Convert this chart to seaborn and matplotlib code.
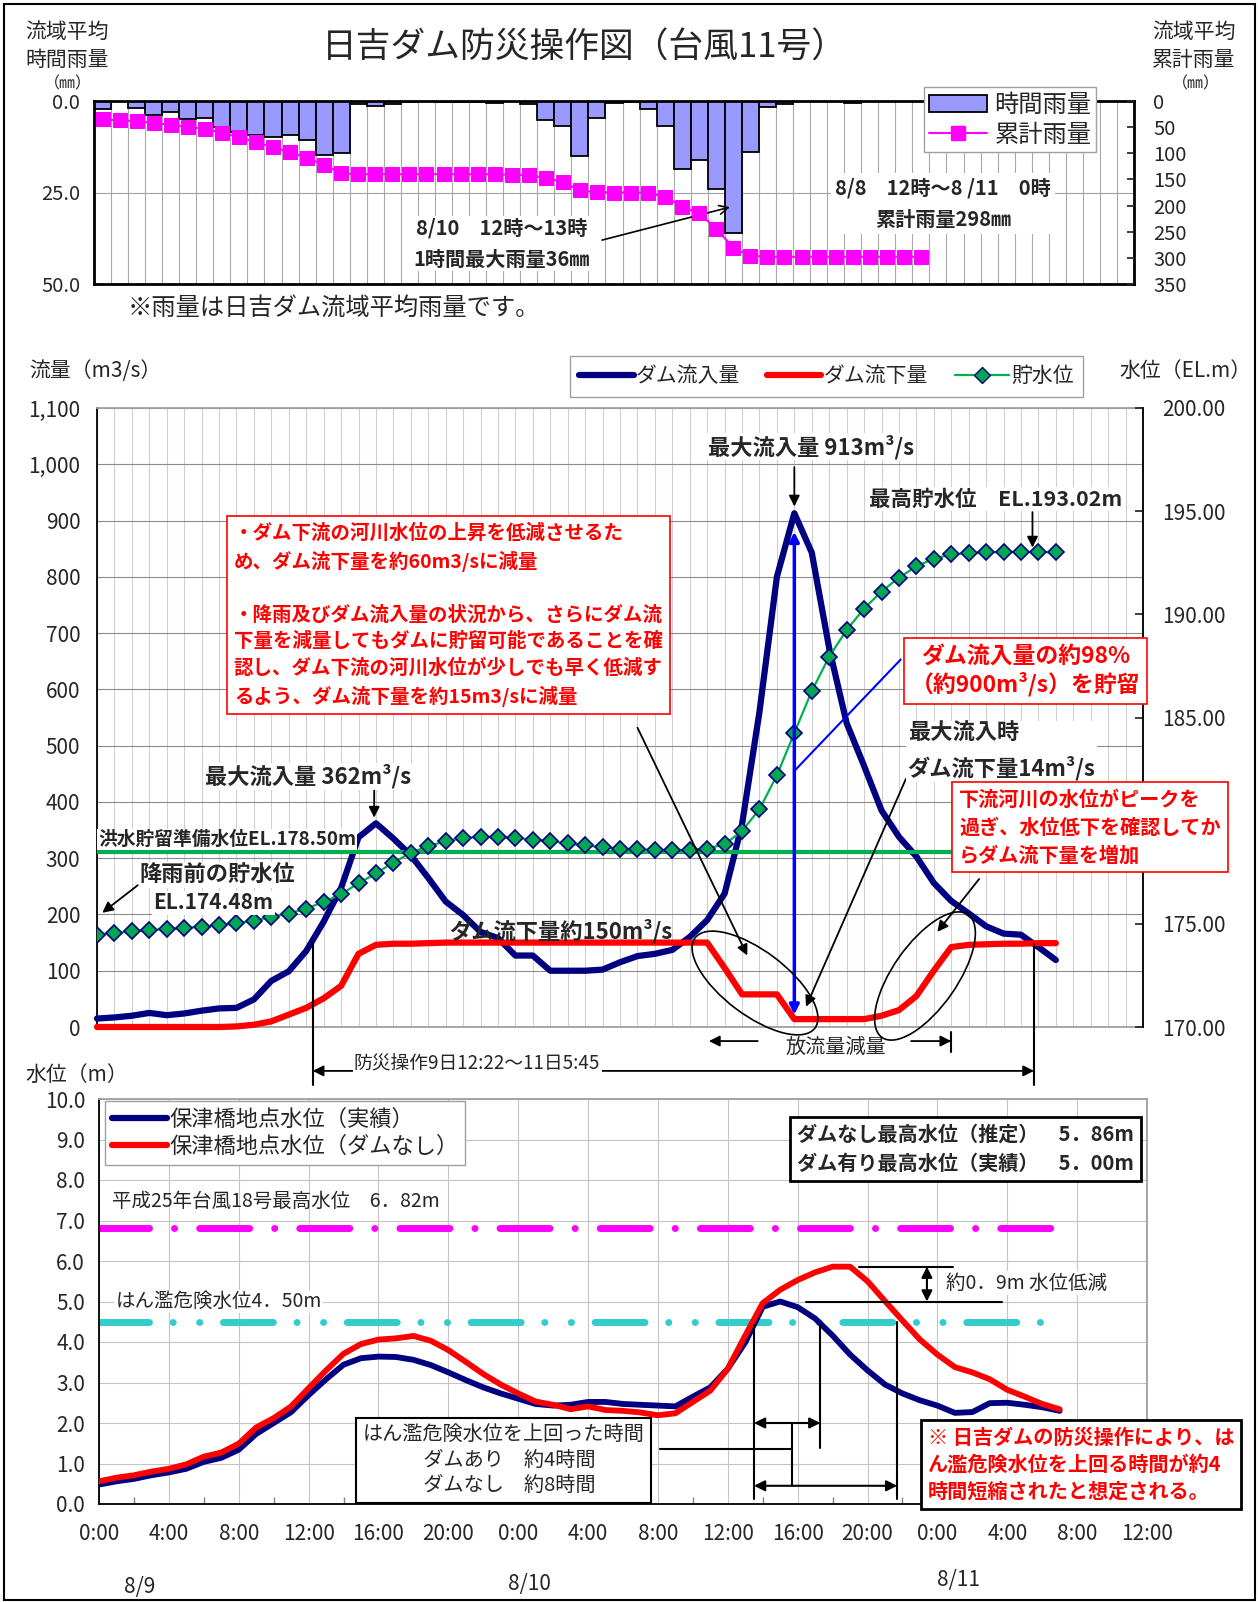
import numpy as np
import matplotlib.pyplot as plt
import seaborn as sns
from matplotlib.patches import Ellipse, Rectangle, Patch
from matplotlib.lines import Line2D
from matplotlib.ticker import FuncFormatter

# -----------------------------
# データ
# -----------------------------
# 時間雨量: 8/9 0:00 ～ 8/11 12:00 の61区分
rain_hour = list(range(61))
rain_mm = [2.2, 0.0, 2.0, 3.9, 2.9, 4.8, 4.6, 7.1, 8.4, 9.4,
           9.7, 9.2, 10.6, 14.8, 14.3, 0.9, 1.3, 0.9, 0.2, 0.1,
           0.2, 0.3, 0.2, 0.5, 0.1, 0.7, 5.1, 6.8, 15.0, 4.7,
           0.6, 0.2, 2.1, 6.9, 18.6, 16.1, 24.1, 36.0, 13.8, 1.7,
           0.9, 0.0, 0.0, 0.0, 0.6, 0.0, 0.0, 0.0, 0.0, 0.0,
           0.0, 0.0, 0.0, 0.0, 0.0, 0.0, 0.0, 0.0, 0.0, 0.0, 0.0]
cum_hour = list(range(49))
cum_mm = [35, 37, 38.5, 42, 46, 49.5, 53, 61, 69, 79,
          88.5, 98, 108.5, 122.5, 138.5, 140, 140, 140, 140, 140,
          140, 140, 140, 140, 141, 141.5, 147.5, 155, 171, 174.5,
          175, 175, 176, 183, 202, 215, 244, 281, 296, 298,
          298, 298, 298, 298, 298, 298, 298, 298, 298]

# ダム流入量・流下量・貯水位（8/9 0:00 から1時間毎）
flow_hour = list(range(56))
inflow = [15, 17, 20, 25, 21, 24, 29, 33, 34, 49,
          82, 99, 135, 187, 247, 337, 362, 335, 305, 265,
          223, 199, 169, 158, 127, 127, 100, 100, 100, 102,
          115, 126, 130, 137, 160, 190, 237, 360, 560, 800,
          913, 843, 673, 540, 464, 385, 338, 303, 256, 224,
          202, 179, 166, 164, 142, 119]
outflow = [0, 0, 0, 0, 0, 0, 0, 0, 1, 4,
           10, 22, 34, 51, 73, 130, 146, 148, 148, 149,
           150, 150, 150, 150, 150, 150, 150, 150, 150, 150,
           150, 150, 150, 150, 150, 150, 105, 58, 58, 58,
           14, 14, 14, 14, 14, 20, 30, 55, 100, 142,
           146, 147, 148, 148, 149, 149]
storage = [174.48, 174.55, 174.63, 174.70, 174.74, 174.80, 174.87, 174.93, 175.02, 175.16,
           175.33, 175.50, 175.74, 176.06, 176.44, 176.96, 177.45, 177.97, 178.44, 178.77,
           179.00, 179.16, 179.22, 179.22, 179.17, 179.08, 179.01, 178.90, 178.80, 178.72,
           178.65, 178.61, 178.59, 178.58, 178.58, 178.65, 178.85, 179.50, 180.55, 182.20,
           184.25, 186.28, 187.95, 189.24, 190.28, 191.10, 191.78, 192.32, 192.70, 192.90,
           192.97, 193.00, 193.02, 193.02, 193.02, 193.00]
flood_prep_el = 178.50

# 保津橋地点水位
lvl_hour = list(range(56))
lvl_actual = [0.48, 0.56, 0.62, 0.71, 0.78, 0.87, 1.04, 1.14, 1.34, 1.73,
              2.00, 2.27, 2.69, 3.08, 3.44, 3.60, 3.64, 3.63, 3.56, 3.43,
              3.25, 3.06, 2.88, 2.73, 2.60, 2.47, 2.43, 2.45, 2.52, 2.52,
              2.47, 2.45, 2.43, 2.41, 2.65, 2.88, 3.34, 3.99, 4.87, 5.00,
              4.86, 4.58, 4.16, 3.69, 3.30, 2.95, 2.73, 2.56, 2.43, 2.25,
              2.27, 2.49, 2.50, 2.45, 2.39, 2.30]
lvl_nodam = [0.56, 0.65, 0.71, 0.80, 0.87, 0.98, 1.17, 1.27, 1.49, 1.89,
             2.12, 2.41, 2.86, 3.30, 3.71, 3.95, 4.06, 4.09, 4.15, 4.03,
             3.80, 3.51, 3.21, 2.95, 2.73, 2.53, 2.45, 2.34, 2.41, 2.32,
             2.30, 2.26, 2.19, 2.24, 2.52, 2.80, 3.34, 4.16, 4.96, 5.29,
             5.53, 5.72, 5.86, 5.86, 5.50, 5.01, 4.53, 4.06, 3.69, 3.38,
             3.25, 3.08, 2.82, 2.65, 2.47, 2.34]
h25_max = 6.82
danger_lvl = 4.50

time_ticks = list(range(0, 61, 4))
time_labels = ["0:00", "4:00", "8:00", "12:00", "16:00", "20:00",
               "0:00", "4:00", "8:00", "12:00", "16:00", "20:00",
               "0:00", "4:00", "8:00", "12:00"]

# -----------------------------
# スタイル
# -----------------------------
sns.set_theme(style="white")
plt.rcParams['font.family'] = ['Noto Sans CJK JP', 'DejaVu Sans']
plt.rcParams['lines.scale_dashes'] = False
plt.rcParams['axes.unicode_minus'] = False

W, H = 1258, 1602
fig = plt.figure(figsize=(W / 100, H / 100), dpi=100)


def box(l, t, r, b):
    return [l / W, 1 - b / H, (r - l) / W, (b - t) / H]


def ftext(x, y, s, **kw):
    fig.text(x / W, 1 - y / H, s, **kw)


def arrow(ax, trans, x0, y0, x1, y1, style='-|>', color='black', lw=1.3, ms=16):
    ax.annotate('', xy=(x1, y1), xytext=(x0, y0), xycoords=trans, textcoords=trans,
                annotation_clip=False,
                arrowprops=dict(arrowstyle=style, color=color, lw=lw,
                                shrinkA=0, shrinkB=0, mutation_scale=ms))


WHITE = dict(facecolor='white', edgecolor='none', pad=1)

# -----------------------------
# 上段: 雨量
# -----------------------------
ax_r = fig.add_axes(box(94, 101, 1134, 284))
sns.barplot(x=rain_hour, y=rain_mm, ax=ax_r, orient='v', color='#9999FF', saturation=1,
            edgecolor='black', linewidth=1.3, width=1.0, errorbar=None, zorder=2)
ax_r.set_xlim(-0.5, 60.5)
ax_r.set_ylim(50, 0)
ax_r.set_xticks([])
ax_r.set_xticks(np.arange(0.5, 60, 1), minor=True)
ax_r.tick_params(axis='x', which='minor', length=0)
ax_r.grid(axis='x', which='minor', color='#A8A8A8', lw=0.8)
ax_r.set_yticks([0, 25, 50])
ax_r.set_yticklabels(["0.0", "25.0", "50.0"], fontsize=14.5)
ax_r.yaxis.grid(True, color='#A0A0A0', lw=0.8)
ax_r.tick_params(axis='y', length=0, pad=10)
ax_r.set_xlabel("")
ax_r.set_ylabel("")
for sp in ax_r.spines.values():
    sp.set_color('black')
    sp.set_linewidth(2)

ax_c = ax_r.twinx()
sns.lineplot(x=cum_hour, y=cum_mm, ax=ax_c, color='#FF00FF', lw=1.5, marker='s',
             markersize=10, markeredgecolor='#FF00FF', legend=False)
ax_c.set_ylim(350, 0)
ax_c.set_yticks(range(0, 351, 50))
ax_c.tick_params(axis='y', direction='in', length=5, labelsize=14.5, pad=14)
ax_c.set_ylabel("")
for sp in ax_c.spines.values():
    sp.set_visible(False)

ax_r.text(23.4, 39, "8/10　12時～13時\n1時間最大雨量36㎜", ha='center', va='center',
          fontsize=14.5, fontweight='bold', linespacing=1.6, zorder=5, bbox=WHITE)
arrow(ax_r, ax_r.transData, 29.3, 38, 36.8, 29.0, style='->', lw=1.2)
ax_r.text(49.3, 28, "8/8　12時～8 /11　0時\n累計雨量298㎜", ha='center', va='center',
          fontsize=14.5, fontweight='bold', linespacing=1.6, zorder=5,
          bbox=dict(facecolor='white', edgecolor='none', pad=3))

rain_handles = [Patch(facecolor='#9999FF', edgecolor='black', lw=1.3),
                Line2D([], [], color='#FF00FF', lw=1.5, marker='s', markersize=10)]
fig.legend(rain_handles, ["時間雨量", "累計雨量"], loc='upper left',
           bbox_to_anchor=(924 / W, 1 - 87 / H), borderaxespad=0, fontsize=17.5,
           frameon=True, fancybox=False, edgecolor='#A0A0A0', framealpha=1, borderpad=0.2,
           handlelength=2.4, handletextpad=0.3, labelspacing=0.15)

ftext(584, 48, "日吉ダム防災操作図（台風11号）", ha='center', va='center', fontsize=25)
ftext(25, 46, "流域平均\n時間雨量", ha='left', va='center', fontsize=15, linespacing=1.3)
ftext(68, 84, "（㎜）", ha='center', va='center', fontsize=11.5)
ftext(1152, 46, "流域平均\n累計雨量", ha='left', va='center', fontsize=15, linespacing=1.3)
ftext(1196, 84, "（㎜）", ha='center', va='center', fontsize=11.5)
ftext(128, 308, "※雨量は日吉ダム流域平均雨量です。", ha='left', va='center', fontsize=17.5)

# -----------------------------
# 中段: 流量・貯水位
# -----------------------------
ax_m = fig.add_axes(box(97, 408, 1143, 1027))
sns.lineplot(x=flow_hour, y=inflow, ax=ax_m, color='#000080', lw=4.5, legend=False,
             zorder=3, clip_on=False)
sns.lineplot(x=flow_hour, y=outflow, ax=ax_m, color='#FF0000', lw=4.5, legend=False,
             zorder=4, clip_on=False)
ax_m.set_xlim(0, 60)
ax_m.set_ylim(0, 1100)
ax_m.set_xticks(range(0, 61))
ax_m.set_xticklabels([])
ax_m.tick_params(axis='x', length=0)
ax_m.set_yticks(range(0, 1101, 100))
ax_m.yaxis.set_major_formatter(FuncFormatter(lambda v, p: f"{int(v):,}"))
ax_m.tick_params(axis='y', length=0, labelsize=15, pad=12)
ax_m.grid(axis='x', color='#D0D0D0', lw=0.8)
ax_m.grid(axis='y', color='#8C8C8C', lw=0.8)
ax_m.set_xlabel("")
ax_m.set_ylabel("")
for k, sp in ax_m.spines.items():
    sp.set_color('black' if k == 'left' else '#A0A0A0')
    sp.set_linewidth(1.3)

ax_s = ax_m.twinx()
ax_s.axhline(flood_prep_el, color='#00B050', lw=3, zorder=2)
sns.lineplot(x=flow_hour, y=storage, ax=ax_s, color='#00B050', lw=1.6, marker='D',
             markersize=8, markerfacecolor='#00A651', markeredgecolor='#000080',
             markeredgewidth=1.2, legend=False, zorder=3)
ax_s.set_ylim(170, 200)
ax_s.set_yticks(range(170, 201, 5))
# 180.00 は注記枠の下に隠れる
ax_s.yaxis.set_major_formatter(FuncFormatter(lambda v, p: "" if abs(v - 180) < 0.01 else f"{v:.2f}"))
ax_s.tick_params(axis='y', direction='in', length=6, labelsize=15, pad=14)
ax_s.set_ylabel("")
for k, sp in ax_s.spines.items():
    sp.set_visible(k == 'right')
ax_s.spines['right'].set_color('black')
ax_s.spines['right'].set_linewidth(1.3)

flow_handles = [Line2D([], [], color='#000080', lw=4.5),
                Line2D([], [], color='#FF0000', lw=4.5),
                Line2D([], [], color='#00B050', lw=1.6, marker='D', markersize=8,
                       markerfacecolor='#00A651', markeredgecolor='#000080')]
fig.legend(flow_handles, ["ダム流入量", "ダム流下量", "貯水位"], loc='upper left',
           bbox_to_anchor=(570 / W, 1 - 356 / H), borderaxespad=0, ncol=3, fontsize=15,
           frameon=True, fancybox=False, edgecolor='#A0A0A0', framealpha=1, borderpad=0.45,
           handlelength=2.6, handletextpad=0.1, columnspacing=1.3)

ftext(29, 371, "流量（m3/s）", ha='left', va='center', fontsize=15)
ftext(1119, 371, "水位（EL.m）", ha='left', va='center', fontsize=15)

mt = ax_m.transData
A = ax_s  # 注記は上側の軸に描く


def mtext(x, y, s, **kw):
    A.text(x, y, s, transform=mt, zorder=10, **kw)


mtext(40.96, 1031, "最大流入量 913m³/s", ha='center', va='center', fontsize=16,
      fontweight='bold', bbox=WHITE)
arrow(A, mt, 40, 995, 40, 925)
mtext(44.3, 938, "最高貯水位　EL.193.02m", ha='left', va='center', fontsize=15.5,
      fontweight='bold', bbox=WHITE)
arrow(A, mt, 53.66, 915, 53.66, 852)

mtext(7.85, 895,
      "・ダム下流の河川水位の上昇を低減させるた\nめ、ダム流下量を約60m3/sに減量\n\n"
      "・降雨及びダム流入量の状況から、さらにダム流\n下量を減量してもダムに貯留可能であることを確\n"
      "認し、ダム下流の河川水位が少しでも早く低減す\nるよう、ダム流下量を約15m3/sに減量",
      ha='left', va='top', fontsize=14, fontweight='bold', color='#FF0000', linespacing=1.47,
      bbox=dict(facecolor='white', edgecolor='#FF0000', lw=1.2, pad=5))

mtext(53.25, 633, "ダム流入量の約98%\n（約900m³/s）を貯留", ha='center', va='center',
      fontsize=16.5, fontweight='bold', color='#FF0000', linespacing=1.25,
      bbox=dict(facecolor='white', edgecolor='#FF0000', lw=1.2, pad=5))
A.plot([46.1, 39.97], [653, 454], transform=mt, color='#0000FF', lw=1.5, zorder=6)
arrow(A, mt, 40, 22, 40, 880, style='<|-|>', color='#0000FF', lw=2.5, ms=14)

mtext(46.5, 490, "最大流入時\nダム流下量14m³/s", ha='left', va='center', fontsize=16,
      fontweight='bold', linespacing=1.55, bbox=WHITE)
arrow(A, mt, 46.4, 441, 40.67, 36)

mtext(49.45, 423, "下流河川の水位がピークを\n過ぎ、水位低下を確認してか\nらダム流下量を増加",
      ha='left', va='top', fontsize=14.5, fontweight='bold', color='#FF0000', linespacing=1.4,
      bbox=dict(facecolor='white', edgecolor='#FF0000', lw=1.2, pad=5))
arrow(A, mt, 50.6, 263, 48.2, 169)
arrow(A, mt, 31.0, 532, 37.3, 127)

mtext(12.1, 445, "最大流入量 362m³/s", ha='center', va='center', fontsize=16,
      fontweight='bold', bbox=WHITE)
arrow(A, mt, 15.9, 421, 15.9, 372)
mtext(0.05, 333, "洪水貯留準備水位EL.178.50m", ha='left', va='center', fontsize=13.5,
      fontweight='bold', bbox=WHITE)
mtext(2.46, 270, "降雨前の貯水位", ha='left', va='center', fontsize=16, fontweight='bold',
      bbox=WHITE)
mtext(6.67, 221, "EL.174.48m", ha='center', va='center', fontsize=15, fontweight='bold',
      bbox=WHITE)
arrow(A, mt, 2.34, 252, 0.3, 203)
mtext(20.2, 170, "ダム流下量約150m³/s", ha='left', va='center', fontsize=16, fontweight='bold')

# 防災操作期間
A.plot([12.37, 12.37], [150, -103], transform=mt, color='black', lw=1.5, clip_on=False)
A.plot([53.75, 53.75], [148, -103], transform=mt, color='black', lw=1.5, clip_on=False)
arrow(A, mt, 12.37, -78, 53.75, -78, style='<|-|>', lw=1.3)
mtext(21.8, -63, "防災操作9日12:22～11日5:45", ha='center', va='center', fontsize=13.5,
      bbox=WHITE)
mtext(42.4, -37, "放流量減量", ha='center', va='center', fontsize=14.5)
arrow(A, mt, 37.9, -25, 35.1, -25)
arrow(A, mt, 46.7, -25, 49.0, -25)
A.plot([49.0, 49.0], [-9, -45], transform=mt, color='black', lw=1.5, clip_on=False)

for cx, cy, ew, eh, ang in [(755, 983, 150, 64, -37), (925, 976, 150, 64, 55)]:
    fig.add_artist(Ellipse((cx / 100, (H - cy) / 100), ew / 100, eh / 100, angle=ang,
                           transform=fig.dpi_scale_trans, fill=False,
                           edgecolor='black', lw=1.2))

# -----------------------------
# 下段: 保津橋地点水位
# -----------------------------
ax_w = fig.add_axes(box(99, 1099, 1147, 1504))
ax_w.plot([0, 55.3], [h25_max, h25_max], color='#FF00FF', lw=5,
          ls=(0, (36, 18, 0.1, 18)), dash_capstyle='round', zorder=2)
ax_w.plot([0, 55.3], [danger_lvl, danger_lvl], color='#33CCCC', lw=5,
          ls=(0, (36, 17, 0.1, 19, 0.1, 17)), dash_capstyle='round', zorder=2)
sns.lineplot(x=lvl_hour, y=lvl_actual, ax=ax_w, color='#000080', lw=4.2, legend=False, zorder=3)
sns.lineplot(x=lvl_hour, y=lvl_nodam, ax=ax_w, color='#FF0000', lw=4.2, legend=False, zorder=4)
ax_w.set_xlim(0, 60)
ax_w.set_ylim(0, 10)
ax_w.set_xticks(time_ticks)
ax_w.set_xticklabels(time_labels, fontsize=15)
ax_w.set_xticks(range(2, 60, 4), minor=True)
ax_w.tick_params(axis='x', which='major', length=0, pad=14)
ax_w.tick_params(axis='x', which='minor', direction='in', length=5, color='#808080', bottom=True)
ax_w.set_yticks(range(0, 11))
ax_w.set_yticklabels([f"{v:.1f}" for v in range(0, 11)], fontsize=15)
ax_w.tick_params(axis='y', length=0, pad=10)
ax_w.grid(which='major', color='#C4C4C4', lw=0.8)
ax_w.set_xlabel("")
ax_w.set_ylabel("")
for k, sp in ax_w.spines.items():
    sp.set_color('black' if k in ('left', 'bottom') else '#A0A0A0')
    sp.set_linewidth(1.3)

lvl_handles = [Line2D([], [], color='#000080', lw=4.5), Line2D([], [], color='#FF0000', lw=4.5)]
ax_w.legend(lvl_handles, ["保津橋地点水位（実績）", "保津橋地点水位（ダムなし）"],
            loc='upper left', bbox_to_anchor=(6 / 1048, 1 - 2 / 405), borderaxespad=0,
            fontsize=16, frameon=True, fancybox=False, edgecolor='#A0A0A0', framealpha=1,
            borderpad=0.3, handlelength=2.5, handletextpad=0.1, labelspacing=0.2)

wt = ax_w.transData


def wtext(x, y, s, **kw):
    ax_w.text(x, y, s, zorder=10, **kw)


wtext(39.95, 9.38, "ダムなし最高水位（推定）　5．86m\nダム有り最高水位（実績）　5．00m",
      ha='left', va='top', fontsize=14.5, fontweight='bold', linespacing=1.45,
      bbox=dict(facecolor='white', edgecolor='black', lw=2, pad=5))
wtext(0.76, 7.48, "平成25年台風18号最高水位　6．82m", ha='left', va='center', fontsize=14)
wtext(0.94, 5.0, "はん濫危険水位4．50m", ha='left', va='center', fontsize=14, bbox=WHITE)
wtext(48.5, 5.45, "約0．9m 水位低減", ha='left', va='center', fontsize=14, bbox=WHITE)

ax_w.plot([43.5, 48.9], [5.86, 5.86], color='black', lw=1.5, zorder=6)
ax_w.plot([40.5, 51.7], [5.0, 5.0], color='black', lw=1.5, zorder=6)
arrow(ax_w, wt, 47.4, 5.86, 47.4, 5.0, style='<|-|>', lw=1.5)
ax_w.plot([37.5, 37.5], [4.42, 0.13], color='black', lw=1.5, zorder=6)
ax_w.plot([41.3, 41.3], [4.42, 1.39], color='black', lw=1.5, zorder=6)
ax_w.plot([45.7, 45.7], [4.50, 0.13], color='black', lw=1.5, zorder=6)
arrow(ax_w, wt, 37.5, 2.0, 41.3, 2.0, style='<|-|>', lw=1.5)
arrow(ax_w, wt, 37.5, 0.45, 45.7, 0.45, style='<|-|>', lw=1.5)
ax_w.plot([32.1, 39.7], [1.35, 1.35], color='black', lw=1.5, zorder=6)
ax_w.plot([39.7, 39.7], [2.0, 0.45], color='black', lw=1.5, zorder=6)

wtext(15.1, 1.95, "はん濫危険水位を上回った時間\n　　　ダムあり　約4時間\n　　　ダムなし　約8時間",
      ha='left', va='top', fontsize=14.5, linespacing=1.25,
      bbox=dict(facecolor='white', edgecolor='black', lw=1.5, pad=5))

ftext(928, 1427, "※ 日吉ダムの防災操作により、は\nん濫危険水位を上回る時間が約4\n時間短縮されたと想定される。",
      ha='left', va='top', fontsize=14.5, fontweight='bold', color='#FF0000', linespacing=1.35,
      bbox=dict(facecolor='white', edgecolor='black', lw=2, pad=5), zorder=10)

ftext(25, 1075, "水位（m）", ha='left', va='center', fontsize=15)
ftext(140, 1587, "8/9", ha='center', va='center', fontsize=15)
ftext(529, 1584, "8/10", ha='center', va='center', fontsize=15)
ftext(958, 1580, "8/11", ha='center', va='center', fontsize=15)

fig.add_artist(Rectangle((4 / W, 2 / H), 1251 / W, 1596 / H, transform=fig.transFigure,
                         fill=False, edgecolor='black', lw=1.5))

fig.savefig("out.png", dpi=100)
